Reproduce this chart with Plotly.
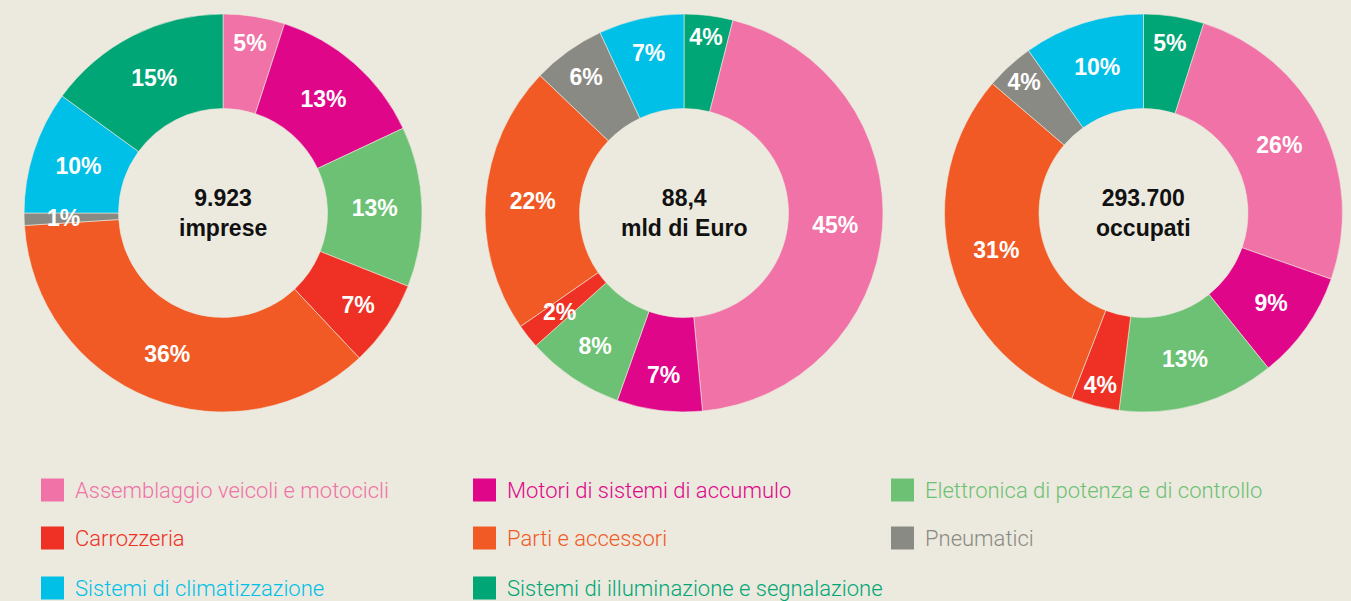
import math
import plotly.graph_objects as go

BG = "#ECE9DE"

categories = [
    "Assemblaggio veicoli e motocicli",
    "Motori di sistemi di accumulo",
    "Elettronica di potenza e di controllo",
    "Carrozzeria",
    "Parti e accessori",
    "Pneumatici",
    "Sistemi di climatizzazione",
    "Sistemi di illuminazione e segnalazione",
]
colors = ["#F072A6", "#E0068A", "#6CC174", "#EE3124", "#F15A24", "#8A8A84", "#00C0E8", "#00A676"]

imprese = [5, 13, 13, 7, 36, 1, 10, 15]
fatturato = [45, 7, 8, 2, 22, 6, 7, 4]
occupati = [26, 9, 13, 4, 31, 4, 10, 5]

center_titles = ["9.923<br>imprese", "88,4<br>mld di Euro", "293.700<br>occupati"]
# which category starts at 12 o'clock for each donut
start_index = [0, 7, 7]

legend_cols = 3

W, H = 1351, 601
LABEL_FONT = dict(family="Liberation Sans", size=23, color="white", weight="bold")

fig = go.Figure()

x_domains = [[0.0178, 0.3124], [0.359, 0.6536], [0.6991, 0.9937]]
y_domain = [0.3145, 0.9767]

for k, (vals, title, s) in enumerate(zip([imprese, fatturato, occupati], center_titles, start_index)):
    order = list(range(s, len(categories))) + list(range(0, s))
    v_ord = [vals[i] for i in order]
    small = [v < 3 for v in v_ord]
    fig.add_trace(go.Pie(
        labels=[categories[i] for i in order],
        values=v_ord,
        text=[f"{v}%" for v in v_ord],
        marker=dict(colors=[colors[i] for i in order], line=dict(color=BG, width=0.6)),
        hole=0.525,
        sort=False,
        direction="clockwise",
        rotation=0,
        textinfo="text",
        textposition=["none" if sm else "inside" for sm in small],
        insidetextorientation="horizontal",
        textfont=LABEL_FONT,
        domain=dict(x=x_domains[k], y=y_domain),
        showlegend=False,
        hoverinfo="label+text",
    ))
    cx = sum(x_domains[k]) / 2
    cy = sum(y_domain) / 2
    fig.add_annotation(
        x=cx, y=cy, xref="paper", yref="paper",
        text=f"<b>{title}</b>", showarrow=False,
        font=dict(family="Liberation Sans", size=23, color="#111111"),
        xanchor="center", yanchor="middle",
    )
    # labels for very thin slices, placed mid-ring at the slice's mid-angle
    R = (x_domains[k][1] - x_domains[k][0]) * W / 2
    total = sum(v_ord)
    cum = 0
    for v, sm in zip(v_ord, small):
        if sm:
            th = 2 * math.pi * (cum + v / 2) / total
            fig.add_annotation(
                x=cx + 0.8 * R * math.sin(th) / W,
                y=cy + 0.8 * R * math.cos(th) / H,
                xref="paper", yref="paper", text=f"{v}%", showarrow=False,
                font=LABEL_FONT, xanchor="center", yanchor="middle",
            )
        cum += v

# custom legend (colored text)
col_x = [41, 473, 891]
row_y = [490, 538, 588]
sw = 23
for i, (cat, col) in enumerate(zip(categories, colors)):
    r, c = divmod(i, legend_cols)
    x0 = col_x[c]
    yc = row_y[r]
    fig.add_shape(type="rect", xref="paper", yref="paper",
                  x0=x0 / W, x1=(x0 + sw) / W,
                  y0=1 - (yc + sw / 2) / H, y1=1 - (yc - sw / 2) / H,
                  fillcolor=col, line=dict(width=0))
    fig.add_annotation(x=(x0 + sw + 9) / W, y=1 - yc / H, xref="paper", yref="paper",
                       text=cat, showarrow=False, xanchor="left", yanchor="middle",
                       font=dict(family="Roboto", size=22, color=col, weight=300))

fig.update_layout(
    width=W, height=H,
    margin=dict(l=0, r=0, t=0, b=0),
    paper_bgcolor=BG, plot_bgcolor=BG,
    uniformtext=dict(minsize=23, mode="show"),
)

fig.write_html("out.html", config=dict(displayModeBar=False),
               post_script="document.body.style.margin='0';document.body.style.background='" + BG + "';")
